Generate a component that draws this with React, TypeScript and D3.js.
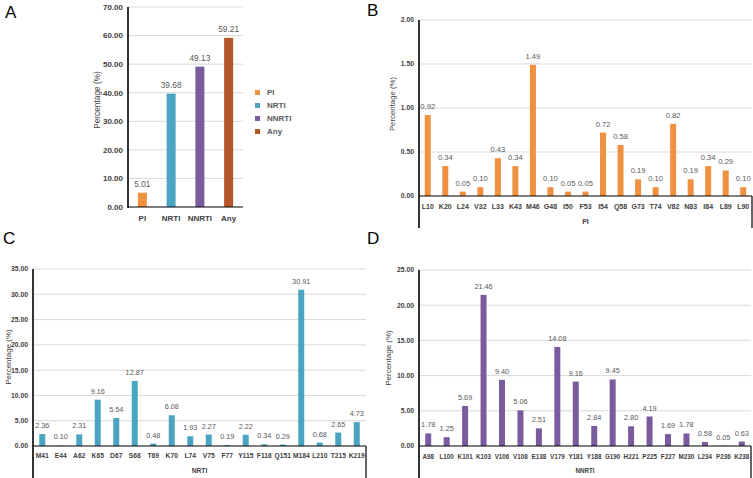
import React from "react";
import * as d3 from "d3";

const aCategories = ["PI", "NRTI", "NNRTI", "Any"];
const aValues = [5.01, 39.68, 49.13, 59.21];
const aColors = ["#F0913F", "#4BA5C1", "#7A5C9E", "#B4562A"];

const bCategories = ["L10", "K20", "L24", "V32", "L33", "K43", "M46", "G48", "I50", "F53", "I54", "Q58", "G73", "T74", "V82", "N83", "I84", "L89", "L90"];
const bValues = [0.92, 0.34, 0.05, 0.10, 0.43, 0.34, 1.49, 0.10, 0.05, 0.05, 0.72, 0.58, 0.19, 0.10, 0.82, 0.19, 0.34, 0.29, 0.10];

const cCategories = ["M41", "E44", "A62", "K65", "D67", "S68", "T69", "K70", "L74", "V75", "F77", "Y115", "F116", "Q151", "M184", "L210", "T215", "K219"];
const cValues = [2.36, 0.10, 2.31, 9.16, 5.54, 12.87, 0.48, 6.08, 1.93, 2.27, 0.19, 2.22, 0.34, 0.29, 30.91, 0.68, 2.65, 4.73];

const dCategories = ["A98", "L100", "K101", "K103", "V106", "V108", "E138", "V179", "Y181", "Y188", "G190", "H221", "P225", "F227", "M230", "L234", "P236", "K238"];
const dValues = [1.78, 1.25, 5.69, 21.46, 9.40, 5.06, 2.51, 14.08, 9.16, 2.84, 9.45, 2.80, 4.19, 1.69, 1.78, 0.58, 0.05, 0.63];

const legendLabels = ["PI", "NRTI", "NNRTI", "Any"];
const yTitle = "Percentage (%)";

const FONT = "'Liberation Sans', Arial, sans-serif";

type PanelProps = {
  cats: string[];
  vals: number[];
  colors: string[];
  left: number; right: number; top: number; zero: number;
  max: number; step: number;
  barW: number; axisBottom: number; box: boolean;
  tickFont: number; catFont: number; valFont: number; titleFont: number;
  catY: number; xTitle?: string; xTitleY?: number;
  yTitleX: number; yTitleY: number;
};

function Panel(p: PanelProps) {
  const x = d3.scaleBand<string>().domain(p.cats).range([p.left, p.right]).padding(0);
  const y = d3.scaleLinear().domain([0, p.max]).range([p.zero, p.top]);
  const ticks = d3.range(0, p.max + p.step / 2, p.step);
  const bw = x.bandwidth();
  return (
    <g>
      {ticks.map((t) => (
        <g key={t}>
          {t > 0 && (
            <line x1={p.left} x2={p.right} y1={y(t)} y2={y(t)} stroke="#D9D9D9" strokeWidth={1} />
          )}
          <text x={p.left - 5} y={y(t)} dy="0.35em" textAnchor="end" fontSize={p.tickFont} fontWeight="bold" fill="#404040" fontFamily={FONT}>
            {t.toFixed(2)}
          </text>
        </g>
      ))}
      {p.cats.map((c, i) => {
        const cx = (x(c) as number) + bw / 2;
        const v = p.vals[i];
        return (
          <g key={c}>
            <rect x={cx - p.barW / 2} y={y(v)} width={p.barW} height={p.zero - y(v)} fill={p.colors[i % p.colors.length]} />
            <text x={cx} y={y(v) - 6} textAnchor="middle" fontSize={p.valFont} fill="#595959" fontFamily={FONT}>
              {v.toFixed(2)}
            </text>
            <text x={cx} y={p.catY} textAnchor="middle" fontSize={p.catFont} fontWeight="bold" fill="#404040" fontFamily={FONT}>
              {c}
            </text>
          </g>
        );
      })}
      <line x1={p.left} x2={p.right} y1={p.zero} y2={p.zero} stroke="#000" strokeWidth={1.2} />
      <line x1={p.left} x2={p.left} y1={p.top} y2={p.axisBottom} stroke="#000" strokeWidth={1.6} />
      {p.box && (
        <line x1={p.right} x2={p.right} y1={p.zero} y2={p.axisBottom} stroke="#000" strokeWidth={1.2} />
      )}
      {p.xTitle && (
        <text x={(p.left + p.right) / 2} y={p.xTitleY} textAnchor="middle" fontSize={p.catFont} fontWeight="bold" fill="#404040" fontFamily={FONT}>
          {p.xTitle}
        </text>
      )}
      <text
        transform={`translate(${p.yTitleX},${p.yTitleY}) rotate(-90)`}
        textAnchor="middle"
        dy="0.35em"
        fontSize={p.titleFont}
        fill="#404040"
        fontFamily={FONT}
      >
        {yTitle}
      </text>
    </g>
  );
}

export default function App() {
  return (
    <svg width={753} height={478} style={{ position: "absolute", left: 0, top: 0, background: "#fff" }}>
      <rect width={753} height={478} fill="#fff" />
      <text x={5} y={18} fontSize={17} fontFamily={FONT} fill="#000">A</text>
      <text x={367} y={16} fontSize={17} fontFamily={FONT} fill="#000">B</text>
      <text x={3} y={244} fontSize={17} fontFamily={FONT} fill="#000">C</text>
      <text x={367} y={244} fontSize={17} fontFamily={FONT} fill="#000">D</text>

      <Panel cats={aCategories} vals={aValues} colors={aColors}
        left={128} right={243} top={7} zero={207} max={70} step={10}
        barW={9} axisBottom={208} box={false}
        tickFont={8} catFont={8} valFont={8.3} titleFont={8.3}
        catY={221} yTitleX={97} yTitleY={100} />

      {legendLabels.map((l, i) => (
        <g key={l}>
          <rect x={255} y={90 + i * 13} width={5} height={5} fill={aColors[i]} />
          <text x={267} y={92.5 + i * 13} dy="0.35em" fontSize={8} fontWeight="bold" fill="#595959" fontFamily={FONT}>{l}</text>
        </g>
      ))}

      <Panel cats={bCategories} vals={bValues} colors={[aColors[0]]}
        left={419} right={752} top={20} zero={196} max={2} step={0.5}
        barW={6} axisBottom={228} box={true}
        tickFont={6.8} catFont={7} valFont={7.6} titleFont={7.8}
        catY={209} xTitle="PI" xTitleY={224} yTitleX={392} yTitleY={104} />

      <Panel cats={cCategories} vals={cValues} colors={[aColors[1]]}
        left={33} right={366} top={269} zero={446} max={35} step={5}
        barW={6} axisBottom={478} box={true}
        tickFont={6.8} catFont={6.7} valFont={7.3} titleFont={8}
        catY={458} xTitle="NRTI" xTitleY={473} yTitleX={8} yTitleY={357} />

      <Panel cats={dCategories} vals={dValues} colors={[aColors[2]]}
        left={419} right={751} top={270} zero={446} max={25} step={5}
        barW={6} axisBottom={478} box={true}
        tickFont={6.8} catFont={6.3} valFont={7.3} titleFont={8}
        catY={459} xTitle="NNRTI" xTitleY={473} yTitleX={388} yTitleY={358} />
    </svg>
  );
}
